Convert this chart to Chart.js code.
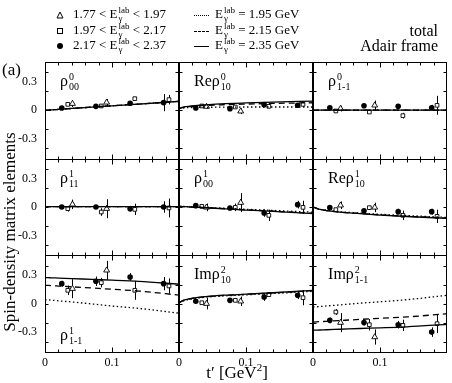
<!DOCTYPE html>
<html lang="en">
<head>
<meta charset="UTF-8">
<title>Spin-density matrix elements</title>
<script src="https://cdn.jsdelivr.net/npm/chart.js"></script>
<style>
  body { margin: 0; background: #fff; }
  #wrap { position: relative; width: 452px; height: 383px; font-family: 'Liberation Serif', serif; color: #000; }
  #wrap canvas { position: absolute; left: 0; top: 0; }
  .txt { position: absolute; white-space: nowrap; }
  .ss { display: inline-flex; flex-direction: column; font-size: 10px; line-height: 10px; vertical-align: 6px; margin-left: 1px; }
  .leg { font-size: 13px; height: 16px; line-height: 16px; }
  .leg .ss { font-size: 9px; line-height: 8px; vertical-align: 5px; }
  .ls { display: inline-block; width: 15px; height: 0; vertical-align: middle; margin-right: 6px; }
  .mk { vertical-align: middle; margin-right: 9px; }
  .plab { font-size: 16px; line-height: 20px; }
</style>
</head>
<body>
<div id="wrap">
  <canvas id="c" width="452" height="383"></canvas>

  <div class="txt leg" style="left:56px;top:6px"><svg class="mk" width="8" height="8"><polygon points="4,1 7,7 1,7" fill="none" stroke="#000"/></svg>1.77 &lt; E<span class="ss"><span>lab</span><span>γ</span></span> &lt; 1.97</div>
  <div class="txt leg" style="left:56px;top:22px"><svg class="mk" width="8" height="8"><rect x="1.5" y="1.5" width="5" height="5" fill="none" stroke="#000"/></svg>1.97 &lt; E<span class="ss"><span>lab</span><span>γ</span></span> &lt; 2.17</div>
  <div class="txt leg" style="left:56px;top:37px"><svg class="mk" width="8" height="8"><circle cx="4" cy="4" r="3" fill="#000"/></svg>2.17 &lt; E<span class="ss"><span>lab</span><span>γ</span></span> &lt; 2.37</div>

  <div class="txt leg" style="left:194px;top:6px"><span class="ls" style="border-top:1.5px dotted #000"></span>E<span class="ss"><span>lab</span><span>γ</span></span> = 1.95 GeV</div>
  <div class="txt leg" style="left:194px;top:22px"><span class="ls" style="border-top:1.5px dashed #000"></span>E<span class="ss"><span>lab</span><span>γ</span></span> = 2.15 GeV</div>
  <div class="txt leg" style="left:194px;top:37px"><span class="ls" style="border-top:1.5px solid #000"></span>E<span class="ss"><span>lab</span><span>γ</span></span> = 2.35 GeV</div>

  <div class="txt" style="right:14px;top:22px;font-size:16px">total</div>
  <div class="txt" style="right:14px;top:37px;font-size:16px">Adair frame</div>

  <div class="txt" style="left:2px;top:60px;font-size:17px">(a)</div>
  <div class="txt" style="left:10px;top:232px;font-size:17px;transform:translate(-50%,-50%) rotate(-90deg)">Spin-density matrix elements</div>
  <div class="txt" style="left:237px;top:372px;font-size:17px;transform:translate(-50%,-50%)">t′ [GeV<sup style="font-size:11px">2</sup>]</div>
</div>

<script>
  // panel order: row by row, left to right
  const panelMain = ['ρ', 'Reρ', 'ρ', 'ρ', 'ρ', 'Reρ', 'ρ', 'Imρ', 'Imρ'];
  const panelSup = ['0', '0', '0', '1', '1', '1', '1', '2', '2'];
  const panelSub = ['00', '10', '1-1', '11', '00', '10', '1-1', '10', '1-1'];

  const xTicks = [0, 0.1];
  const yTicks = [-0.3, 0, 0.3];
  const xMinor = [0.02, 0.04, 0.06, 0.08, 0.1, 0.12, 0.14, 0.16, 0.18];
  const yMinor = [-0.4, -0.2, 0, 0.2, 0.4];

  // t' positions of the data points
  const circT = [0.025, 0.076, 0.127, 0.177];
  const sqT = [0.034, 0.084, 0.134, 0.185];
  const triT = [0.041, 0.092];

  // 2.17 < E < 2.37 (filled circles)
  const circY = [
    [0.025, 0.042, 0.074, 0.081],
    [0.025, 0.018, 0.06, 0.053],
    [0.028, 0.049, 0.042, 0.028],
    [0.0, 0.0, -0.018, 0.0],
    [0.014, -0.01, -0.063, 0.025],
    [-0.007, -0.039, -0.049, -0.049],
    [0.211, 0.236, 0.282, 0.211],
    [0.025, 0.035, 0.07, 0.088],
    [-0.176, -0.2, -0.222, -0.3]
  ];
  const circE = [
    [0.015, 0.015, 0.025, 0.09],
    [0.015, 0.015, 0.02, 0.02],
    [0.015, 0.015, 0.02, 0.03],
    [0.02, 0.02, 0.03, 0.06],
    [0.015, 0.02, 0.04, 0.04],
    [0.015, 0.015, 0.03, 0.03],
    [0.03, 0.05, 0.04, 0.07],
    [0.02, 0.02, 0.04, 0.04],
    [0.03, 0.03, 0.04, 0.05]
  ];

  // 1.97 < E < 2.17 (open squares)
  const sqY = [
    [0.063, 0.046, 0.123, 0.113],
    [0.046, 0.035, 0.042, 0.063],
    [-0.007, -0.018, -0.056, 0.053],
    [-0.018, -0.053, -0.025, -0.01],
    [0.007, -0.004, -0.088, -0.004],
    [-0.028, -0.007, -0.088, -0.099],
    [0.141, 0.222, 0.141, 0.187],
    [0.01, 0.035, 0.095, 0.063],
    [-0.088, -0.222, -0.229, -0.211]
  ];
  const sqE = [
    [0.015, 0.015, 0.02, 0.05],
    [0.015, 0.015, 0.02, 0.02],
    [0.015, 0.02, 0.03, 0.1],
    [0.03, 0.04, 0.06, 0.1],
    [0.02, 0.04, 0.06, 0.07],
    [0.02, 0.02, 0.05, 0.07],
    [0.05, 0.05, 0.1, 0.08],
    [0.015, 0.015, 0.02, 0.08],
    [0.03, 0.06, 0.06, 0.1]
  ];

  // 1.77 < E < 1.97 (open triangles)
  const triY = [
    [0.07, 0.084],
    [0.039, -0.01],
    [0.018, 0.053],
    [0.028, -0.018],
    [-0.004, 0.046],
    [0.018, -0.004],
    [0.158, 0.352],
    [0.0, 0.025],
    [-0.2, -0.352]
  ];
  const triE = [
    [0.035, 0.035],
    [0.02, 0.03],
    [0.03, 0.05],
    [0.05, 0.1],
    [0.04, 0.1],
    [0.04, 0.05],
    [0.1, 0.1],
    [0.06, 0.05],
    [0.1, 0.08]
  ];

  // model curves
  const curveT = [0, 0.005, 0.01, 0.02, 0.04, 0.07, 0.1, 0.14, 0.2];
  const curve195 = [
    [0, 0.002, 0.005, 0.01, 0.02, 0.034, 0.048, 0.066, 0.095],
    [0.018, 0.024, 0.027, 0.03, 0.032, 0.034, 0.035, 0.035, 0.035],
    [0.003, 0.003, 0.003, 0.003, 0.003, 0.003, 0.003, 0.003, 0.003],
    [0.003, 0.003, 0.003, 0.003, 0.003, 0.003, 0.003, 0.003, 0.003],
    [0.007, 0.006, 0.005, 0.002, -0.004, -0.014, -0.024, -0.036, -0.055],
    [0, -0.013, -0.022, -0.034, -0.05, -0.064, -0.077, -0.09, -0.11],
    [0.042, 0.04, 0.037, 0.03, 0.018, -0.003, -0.025, -0.05, -0.1],
    [0.01, 0.026, 0.037, 0.052, 0.068, 0.083, 0.093, 0.107, 0.13],
    [-0.035, -0.033, -0.03, -0.024, -0.013, 0.005, 0.02, 0.042, 0.088]
  ];
  const curve215 = [
    [0, 0.002, 0.005, 0.01, 0.02, 0.034, 0.048, 0.066, 0.095],
    [0.018, 0.028, 0.035, 0.043, 0.052, 0.06, 0.066, 0.073, 0.08],
    [0.003, 0.003, 0.003, 0.003, 0.003, 0.003, 0.003, 0.003, 0.003],
    [0.003, 0.003, 0.003, 0.003, 0.003, 0.003, 0.003, 0.003, 0.003],
    [0.007, 0.005, 0.003, -0.001, -0.008, -0.019, -0.03, -0.044, -0.066],
    [0, -0.015, -0.025, -0.038, -0.054, -0.069, -0.083, -0.098, -0.117],
    [0.194, 0.192, 0.19, 0.186, 0.178, 0.165, 0.152, 0.133, 0.09],
    [0.01, 0.029, 0.04, 0.056, 0.073, 0.088, 0.099, 0.113, 0.138],
    [-0.194, -0.192, -0.19, -0.186, -0.178, -0.166, -0.155, -0.14, -0.106]
  ];
  const curve235 = [
    [0, 0.002, 0.005, 0.01, 0.02, 0.034, 0.048, 0.066, 0.095],
    [0.018, 0.03, 0.038, 0.047, 0.058, 0.07, 0.078, 0.087, 0.098],
    [0.003, 0.003, 0.003, 0.003, 0.003, 0.003, 0.003, 0.003, 0.003],
    [0.003, 0.003, 0.003, 0.003, 0.003, 0.003, 0.003, 0.003, 0.003],
    [0.007, 0.005, 0.003, -0.001, -0.008, -0.02, -0.032, -0.046, -0.07],
    [0, -0.015, -0.025, -0.038, -0.055, -0.07, -0.085, -0.1, -0.12],
    [0.275, 0.274, 0.273, 0.27, 0.265, 0.256, 0.248, 0.235, 0.205],
    [0.01, 0.03, 0.042, 0.058, 0.075, 0.09, 0.1, 0.115, 0.14],
    [-0.28, -0.279, -0.278, -0.275, -0.27, -0.262, -0.255, -0.244, -0.218]
  ];

  const font = { family: 'Liberation Serif', size: 12 };
  const scales = {};
  for (let c = 0; c < 3; c++) {
    scales['x' + c] = {
      type: 'linear', axis: 'x', position: 'bottom', stack: 'cols', stackWeight: 1,
      min: 0, max: 0.2,
      grid: { display: false, drawTicks: false },
      border: { display: false },
      ticks: { autoSkip: false, maxRotation: 0, padding: 4, color: '#000', font,
        callback: v => String(v) },
      afterBuildTicks: s => { s.ticks = xTicks.map(v => ({ value: v })); },
      afterFit: s => { s.height = 31; }
    };
  }
  for (let r = 0; r < 3; r++) {
    scales['y' + r] = {
      type: 'linear', axis: 'y', position: 'left', stack: 'rows', stackWeight: 1,
      weight: 3 - r,
      min: -0.51, max: 0.51,
      grid: { display: false, drawTicks: false },
      border: { display: false },
      ticks: { padding: 8, color: '#000', font, callback: v => String(v) },
      afterBuildTicks: s => { s.ticks = yTicks.map(v => ({ value: v })); },
      afterFit: s => { s.width = 45; }
    };
  }

  const datasets = [];
  const curveStyles = [
    { vals: curve195, dash: [1.5, 2.5] },
    { vals: curve215, dash: [6, 4] },
    { vals: curve235, dash: [] }
  ];
  for (let p = 0; p < 9; p++) {
    const xa = 'x' + (p % 3), ya = 'y' + Math.floor(p / 3);
    curveStyles.forEach(cs => {
      datasets.push({
        type: 'line',
        data: curveT.map((t, i) => ({ x: t, y: cs.vals[p][i] })),
        borderColor: '#000', borderWidth: 1.3, borderDash: cs.dash,
        pointRadius: 0, cubicInterpolationMode: 'monotone', fill: false,
        xAxisID: xa, yAxisID: ya
      });
    });
    datasets.push({
      data: triT.map((t, i) => ({ x: t, y: triY[p][i] })), errs: triE[p],
      pointStyle: 'triangle', pointRadius: 3.4, borderWidth: 0.9,
      borderColor: '#000', backgroundColor: '#fff', xAxisID: xa, yAxisID: ya
    });
    datasets.push({
      data: sqT.map((t, i) => ({ x: t, y: sqY[p][i] })), errs: sqE[p],
      pointStyle: 'rect', pointRadius: 2.6, borderWidth: 0.9,
      borderColor: '#000', backgroundColor: '#fff', xAxisID: xa, yAxisID: ya
    });
    datasets.push({
      data: circT.map((t, i) => ({ x: t, y: circY[p][i] })), errs: circE[p],
      pointStyle: 'circle', pointRadius: 2.8, borderWidth: 0,
      borderColor: '#000', backgroundColor: '#000', xAxisID: xa, yAxisID: ya
    });
  }

  const errorBars = {
    id: 'errorBars',
    beforeDatasetsDraw(chart) {
      const ctx = chart.ctx;
      ctx.save();
      ctx.strokeStyle = '#000';
      ctx.lineWidth = 1;
      chart.data.datasets.forEach((ds, i) => {
        if (!ds.errs) return;
        const ys = chart.scales[ds.yAxisID];
        chart.getDatasetMeta(i).data.forEach((pt, j) => {
          const v = ds.data[j].y, e = ds.errs[j];
          const px = Math.round(pt.x) + 0.5;
          ctx.beginPath();
          ctx.moveTo(px, ys.getPixelForValue(v + e));
          ctx.lineTo(px, ys.getPixelForValue(v - e));
          ctx.stroke();
        });
      });
      ctx.restore();
    }
  };

  const frames = {
    id: 'frames',
    afterDatasetsDraw(chart) {
      const ctx = chart.ctx;
      ctx.save();
      ctx.strokeStyle = '#000';
      ctx.lineWidth = 1;
      const seg = (a, b, c, d) => { ctx.beginPath(); ctx.moveTo(a, b); ctx.lineTo(c, d); ctx.stroke(); };
      for (let r = 0; r < 3; r++) {
        for (let c = 0; c < 3; c++) {
          const xs = chart.scales['x' + c], ys = chart.scales['y' + r];
          const L = Math.round(xs.left) + 0.5, R = Math.round(xs.right) - 0.5;
          const T = Math.round(ys.top) + 0.5, B = Math.round(ys.bottom) + 0.5;
          ctx.strokeRect(L, T, R - L, B - T);
          xMinor.forEach(v => {
            const px = Math.round(xs.getPixelForValue(v)) + 0.5;
            const len = xTicks.includes(v) ? 5 : 3;
            seg(px, B, px, B - len);
            seg(px, T, px, T + len);
          });
          yMinor.forEach(v => {
            const py = Math.round(ys.getPixelForValue(v)) + 0.5;
            seg(L, py, L + 3, py);
            seg(R, py, R - 3, py);
          });
        }
      }
      ctx.restore();
    }
  };

  const chart = new Chart(document.getElementById('c'), {
    type: 'scatter',
    data: { datasets },
    options: {
      responsive: false,
      animation: false,
      layout: { padding: { top: 62, right: 2, left: 0, bottom: 0 } },
      plugins: { legend: { display: false }, tooltip: { enabled: false } },
      scales
    },
    plugins: [errorBars, frames]
  });

  // panel labels
  const wrap = document.getElementById('wrap');
  for (let p = 0; p < 9; p++) {
    const xs = chart.scales['x' + (p % 3)], ys = chart.scales['y' + Math.floor(p / 3)];
    const el = document.createElement('div');
    el.className = 'txt plab';
    el.innerHTML = panelMain[p] + '<span class="ss"><span>' + panelSup[p] + '</span><span>' + panelSub[p] + '</span></span>';
    el.style.left = (xs.left + 15) + 'px';
    el.style.top = (p === 6 ? ys.bottom - 27 : ys.top + 9) + 'px';
    wrap.appendChild(el);
  }
</script>
</body>
</html>
